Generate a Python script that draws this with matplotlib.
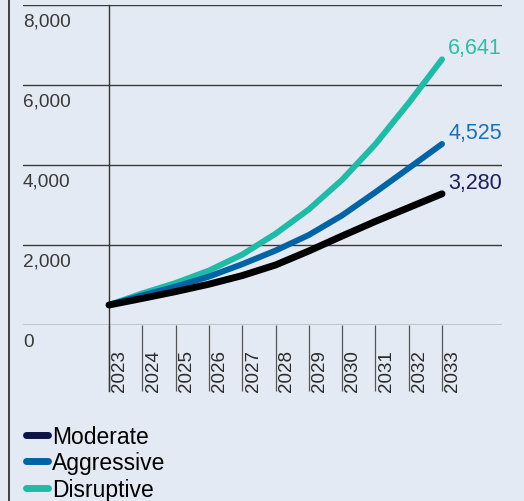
import matplotlib.pyplot as plt
from matplotlib.lines import Line2D
from matplotlib.transforms import blended_transform_factory

years = [2023, 2024, 2025, 2026, 2027, 2028, 2029, 2030, 2031, 2032, 2033]
moderate = [500, 665, 835, 1020, 1235, 1500, 1850, 2225, 2590, 2935, 3280]
aggressive = [500, 740, 960, 1210, 1520, 1860, 2250, 2740, 3320, 3920, 4525]
disruptive = [500, 790, 1050, 1360, 1760, 2280, 2890, 3630, 4520, 5550, 6641]
y_ticks = [0, 2000, 4000, 6000, 8000]

bg = '#E4EAF4'
series = [
    ('Disruptive', disruptive, '#20BBA6', '#2BBFA6', '#20BBA6', 4.3),
    ('Aggressive', aggressive, '#0064A4', '#1E6FB2', '#0064A4', 4.3),
    ('Moderate', moderate, '#000000', '#1B1F5E', '#0A1446', 5.0),
]

plt.rcParams['font.family'] = ['Liberation Sans', 'DejaVu Sans']

W, H = 524, 502
fig = plt.figure(figsize=(W / 100, H / 100), dpi=100, facecolor=bg)
ax = fig.add_axes([23 / W, 1 - 326 / H, (502 - 23) / W, 320 / H])
ax.set_facecolor(bg)
ax.set_xlim(2023 - 86 / 33.3, 2033 + 60 / 33.3)
ax.set_ylim(0, 8000)
for s in ax.spines.values():
    s.set_visible(False)

# horizontal grid
ax.set_yticks(y_ticks)
ax.tick_params(axis='y', length=0, labelleft=False)
ax.yaxis.grid(True, color='#3a3a3a', linewidth=1.0)
ax.set_axisbelow(True)
tr_y = blended_transform_factory(ax.transAxes, ax.transData)
for t in y_ticks:
    ax.annotate(f"{t:,}", xy=(0, t), xycoords=tr_y, xytext=(0, -5.5),
                textcoords='offset points', ha='left', va='top',
                fontsize=13.7, color='#3a3a3a')

# year ticks hanging under the zero line
ax.set_xticks(years)
ax.tick_params(axis='x', length=47.5, width=0.9, color='#555555',
               labelbottom=False)
ax.axvline(2023, ymin=-66 / 320, ymax=1, color='#333333', linewidth=1.0,
           clip_on=False, zorder=1)
tr_x = blended_transform_factory(ax.transData, ax.transAxes)
for yr in years:
    ax.text(yr + 0.07, -66 / 320, str(yr), transform=tr_x, rotation=90,
            ha='left', va='bottom', fontsize=13.5, color='#2a2a2a')

for name, vals, col, lab_col, leg_col, lw in series:
    ax.plot(years, vals, color=col, linewidth=lw, solid_capstyle='round',
            solid_joinstyle='round', zorder=3, clip_on=False)
    ax.annotate(f"{vals[-1]:,}", xy=(years[-1], vals[-1]), xytext=(4.5, 4.5),
                textcoords='offset points', ha='left', va='baseline',
                fontsize=15.5, color=lab_col)

# left border line
fig.add_artist(Line2D([8.5 / W, 8.5 / W], [0, 1], transform=fig.transFigure,
                      color='#111111', linewidth=1.1))

handles = [Line2D([], [], color=leg, linewidth=5, solid_capstyle='round')
           for _, _, _, _, leg, _ in reversed(series)]
labels = [s[0] for s in reversed(series)]
fig.legend(handles, labels, loc='upper left', bbox_to_anchor=(26 / W, 1 - 426 / H),
           frameon=False, fontsize=16.5, handlelength=0.95, handletextpad=0.2,
           labelspacing=0.15, borderaxespad=0, borderpad=0)

fig.savefig('out.png', dpi=100, facecolor=bg)
